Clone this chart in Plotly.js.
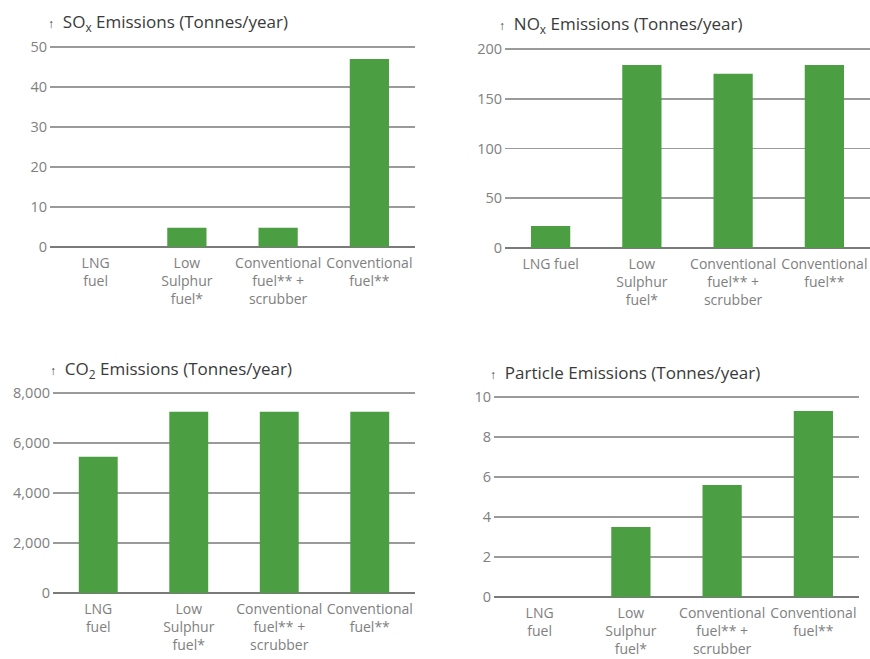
<!DOCTYPE html>
<html>
<head>
<meta charset="utf-8">
<script src="https://cdn.plot.ly/plotly-3.0.1.min.js"></script>
<style>html,body{margin:0;padding:0;background:#fff;} #chart{width:870px;height:659px;}</style>
</head>
<body>
<div id="chart"></div>
<script>
// Data
const categoriesA = ["LNG<br>fuel", "Low<br>Sulphur<br>fuel*", "Conventional<br>fuel** +<br>scrubber", "Conventional<br>fuel**"];
const categoriesNOx = ["LNG fuel", "Low<br>Sulphur<br>fuel*", "Conventional<br>fuel** +<br>scrubber", "Conventional<br>fuel**"];
const soxValues = [0, 4.8, 4.8, 47];
const noxValues = [22, 184, 175, 184];
const co2Values = [5450, 7250, 7250, 7250];
const particleValues = [0, 3.5, 5.6, 9.3];
const soxTicks = [0, 10, 20, 30, 40, 50];
const noxTicks = [0, 50, 100, 150, 200];
const co2Ticks = [0, 2000, 4000, 6000, 8000];
const co2TickLabels = ["0", "2,000", "4,000", "6,000", "8,000"];
const particleTicks = [0, 2, 4, 6, 8, 10];
const titles = [
  "SO<sub>x</sub> Emissions (Tonnes/year)",
  "NO<sub>x</sub> Emissions (Tonnes/year)",
  "CO<sub>2</sub> Emissions (Tonnes/year)",
  "Particle Emissions (Tonnes/year)"
];

const W = 870, H = 659;
const green = "#4b9e41";
const font = "Open Sans, sans-serif";
const EXT = 1.02;

function xd(a, b) { return [a / W, b / W]; }
// zeroPx: pixel y of 0, topPx: pixel y of the top tick; domain extended slightly so the top gridline draws
function yd(topPx, zeroPx) {
  const top = zeroPx - (zeroPx - topPx) * EXT;
  return [1 - zeroPx / H, 1 - top / H];
}

function bar(x, y, xa, ya) {
  return {type: "bar", x: x, y: y, xaxis: xa, yaxis: ya,
    marker: {color: green}, hoverinfo: "skip", showlegend: false};
}
const catIdx = [0, 1, 2, 3];

const data = [
  bar(catIdx, soxValues, "x", "y"),
  bar(catIdx, noxValues, "x2", "y2"),
  bar(catIdx, co2Values, "x3", "y3"),
  bar(catIdx, particleValues, "x4", "y4")
];

function xaxis(dom, anchor, labels) {
  return {domain: dom, anchor: anchor, range: [-0.5, 3.5], tickvals: catIdx, ticktext: labels,
    showgrid: false, zeroline: false, showline: false, ticks: "", fixedrange: true,
    ticklabelstandoff: 6,
    tickfont: {family: font, size: 14, color: "#808080"}, automargin: false};
}
function yaxis(dom, anchor, maxTick, tickvals, ticktext) {
  const o = {domain: dom, anchor: anchor, range: [0, maxTick * EXT], tickvals: tickvals,
    showgrid: true, gridcolor: "#9a9a9a", gridwidth: 1.8,
    zeroline: true, zerolinecolor: "#7a7a7a", zerolinewidth: 2,
    showline: false, ticks: "", fixedrange: true, automargin: false,
    ticklabelstandoff: 2,
    tickfont: {family: font, size: 14.5, color: "#808080"}};
  if (ticktext) o.ticktext = ticktext;
  return o;
}

const layout = {
  width: W, height: H,
  margin: {l: 0, r: 0, t: 0, b: 0},
  paper_bgcolor: "#fff", plot_bgcolor: "rgba(0,0,0,0)",
  bargap: 0.57,
  xaxis: xaxis(xd(50, 415), "y", categoriesA),
  yaxis: yaxis(yd(47, 247), "x", 50, soxTicks),
  xaxis2: xaxis(xd(505, 870), "y2", categoriesNOx),
  yaxis2: yaxis(yd(49, 248), "x2", 200, noxTicks),
  xaxis3: xaxis(xd(53, 415), "y3", categoriesA),
  yaxis3: yaxis(yd(393, 593), "x3", 8000, co2Ticks, co2TickLabels),
  xaxis4: xaxis(xd(494, 859), "y4", categoriesA),
  yaxis4: yaxis(yd(397, 597), "x4", 10, particleTicks),
  annotations: [
    [46, 23, titles[0]],
    [497, 25, titles[1]],
    [48, 369, titles[2]],
    [488, 372, titles[3]]
  ].map(function (t) {
    return {xref: "paper", yref: "paper", x: t[0] / W, y: 1 - t[1] / H,
      xanchor: "left", yanchor: "middle", showarrow: false,
      text: "<span style='font-size:12px'>↑</span>  " + t[2],
      font: {family: font, size: 17, color: "#3a3a3a"}};
  })
};

Plotly.newPlot("chart", data, layout, {staticPlot: true, displayModeBar: false});
</script>
</body>
</html>
